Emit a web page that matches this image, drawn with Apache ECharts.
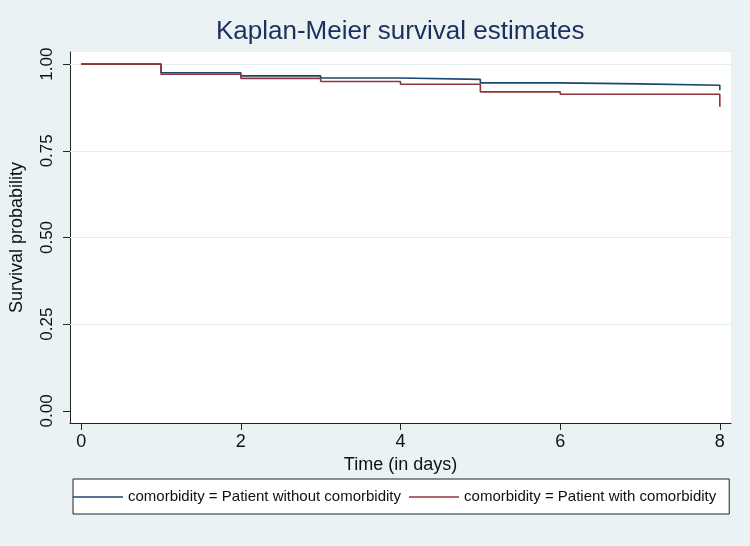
<!DOCTYPE html>
<html>
<head>
<meta charset="utf-8">
<script src="https://cdn.jsdelivr.net/npm/echarts@6/dist/echarts.min.js"></script>
<style>
    html, body { margin: 0; padding: 0; background: #eaf2f3; }
    #chart { width: 750px; height: 546px; }
</style>
</head>
<body>
<div id="chart"></div>
<script>
// Kaplan-Meier step points (time, survival); last point repeats time 8 for the final drop
const timesWithout = [0, 1, 2, 3, 4, 5, 6, 7, 8, 8];
const survWithout = [1, 0.975, 0.966, 0.960, 0.956, 0.946, 0.943, 0.939, 0.939, 0.925];
const timesWith = [0, 1, 2, 3, 4, 5, 6, 8, 8];
const survWith = [1, 0.971, 0.959, 0.950, 0.942, 0.920, 0.913, 0.913, 0.877];

const xTicks = [0, 2, 4, 6, 8];
const yTicks = [0, 0.25, 0.5, 0.75, 1];
const gridLines = [0.25, 0.5, 0.75, 1];

const seriesNames = [
    'comorbidity = Patient without comorbidity',
    'comorbidity = Patient with comorbidity'
];

const zip = (xs, ys) => xs.map((x, i) => [x, ys[i]]);

const font = '"Liberation Sans", Arial, sans-serif';

const option = {
    backgroundColor: '#eaf2f3',
    animation: false,
    title: {
        text: 'Kaplan-Meier survival estimates',
        left: 211,
        top: 14,
        textStyle: { color: '#1c2f5e', fontSize: 26, fontWeight: 'normal', fontFamily: font }
    },
    grid: {
        left: 69,
        right: 19,
        top: 52,
        bottom: 123,
        show: true,
        backgroundColor: '#ffffff',
        borderWidth: 0
    },
    legend: {
        left: 73,
        top: 479,
        orient: 'horizontal',
        data: seriesNames,
        icon: 'rect',
        itemWidth: 50,
        itemHeight: 1.5,
        itemGap: 8,
        padding: [9, 13, 8, 0],
        backgroundColor: '#ffffff',
        borderColor: '#222',
        borderWidth: 1,
        borderRadius: 0,
        textStyle: { color: '#111', fontSize: 15, fontFamily: font, lineHeight: 18 }
    },
    xAxis: {
        type: 'value',
        min: -0.14,
        max: 8.14,
        name: 'Time (in days)',
        nameLocation: 'middle',
        nameGap: 33,
        nameTextStyle: { color: '#111', fontSize: 18, fontFamily: font },
        axisLine: { show: true, onZero: false, lineStyle: { color: '#222', width: 1 } },
        axisTick: { show: true, length: 7, customValues: xTicks, lineStyle: { color: '#222' } },
        axisLabel: { customValues: xTicks, color: '#111', fontSize: 18, margin: 10, fontFamily: font },
        splitLine: { show: false }
    },
    yAxis: {
        type: 'value',
        min: -0.035,
        max: 1.035,
        name: 'Survival probability',
        nameLocation: 'middle',
        nameGap: 44,
        nameTextStyle: { color: '#111', fontSize: 18, fontFamily: font },
        axisLine: { show: true, onZero: false, lineStyle: { color: '#222', width: 1 } },
        axisTick: { show: true, length: 7, customValues: yTicks, lineStyle: { color: '#222' } },
        axisLabel: {
            customValues: yTicks,
            rotate: 90,
            color: '#111',
            fontSize: 17,
            margin: 14,
            fontFamily: font,
            formatter: v => v.toFixed(2)
        },
        splitLine: { show: false }
    },
    series: [
        {
            name: seriesNames[0],
            type: 'line',
            step: 'end',
            data: zip(timesWithout, survWithout),
            showSymbol: false,
            color: '#1a476f',
            lineStyle: { width: 1.6, color: '#1a476f' },
            z: 3,
            markLine: {
                silent: true,
                symbol: 'none',
                label: { show: false },
                lineStyle: { color: '#e4eef0', width: 1.2, type: 'solid' },
                data: gridLines.map(v => ({ yAxis: v })),
                z: 1
            }
        },
        {
            name: seriesNames[1],
            type: 'line',
            step: 'end',
            data: zip(timesWith, survWith),
            showSymbol: false,
            color: '#90353b',
            lineStyle: { width: 1.6, color: '#90353b' },
            z: 4
        }
    ]
};

const chart = echarts.init(document.getElementById('chart'));
chart.setOption(option);
</script>
</body>
</html>
